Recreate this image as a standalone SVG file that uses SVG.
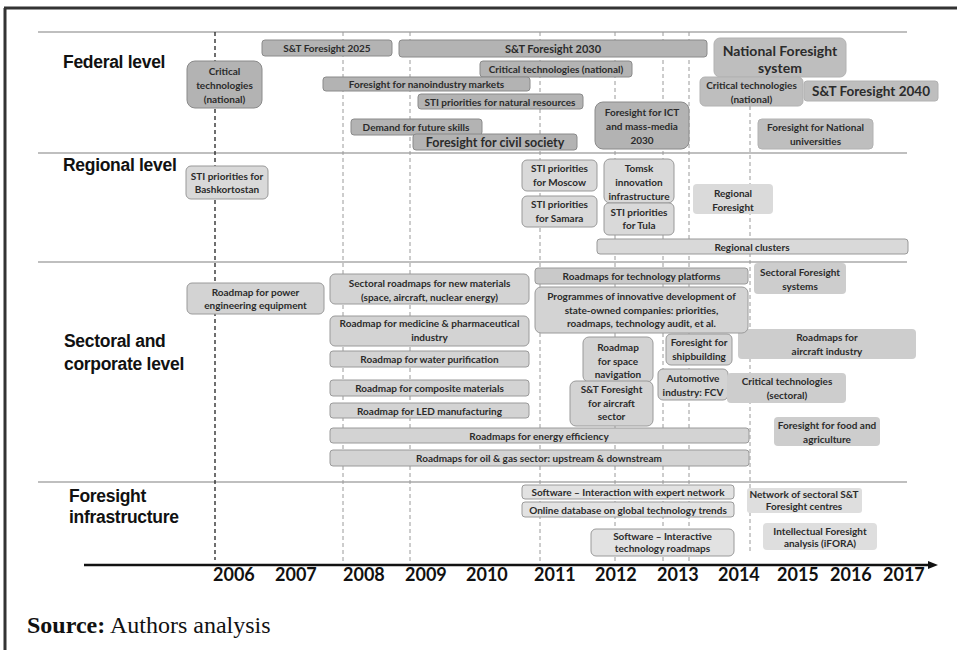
<svg xmlns="http://www.w3.org/2000/svg" width="957" height="650" viewBox="0 0 957 650">
<defs>
<style>
.bg{fill:#ffffff}
.frame{stroke:#333;stroke-width:3;fill:none}
.sep{stroke:#808080;stroke-width:1.2}
.gd{stroke:#9a9a9a;stroke-width:1;stroke-dasharray:4 3;fill:none}
.gk{stroke:#222;stroke-width:1.3;stroke-dasharray:4 3;fill:none}
.axis{stroke:#111;stroke-width:2.5}
.fed{fill:#b3b3b3;stroke:#8a8a8a;stroke-width:1}
.fed2{fill:#bebebe;stroke:#b2b2b2;stroke-width:1}
.reg{fill:#d9d9d9;stroke:#999;stroke-width:1}
.sec{fill:#d3d3d3;stroke:#9a9a9a;stroke-width:1}
.soft{fill:#cdcdcd;stroke:none}
.inf{fill:#e2e2e2;stroke:#9a9a9a;stroke-width:1}
.t{font-family:Lato,"Liberation Sans",sans-serif;font-weight:700;font-size:10px;fill:#2b2b2b;text-anchor:middle;dominant-baseline:central}
.lvl{font-family:"Liberation Sans",Arial,sans-serif;font-weight:700;font-size:17.5px;fill:#111;letter-spacing:-0.3px}
.yr{font-family:Lato,"Liberation Sans",sans-serif;font-weight:700;font-size:18px;fill:#111}
.src{font-family:"Liberation Serif","Times New Roman",serif;font-size:24px;fill:#111}
</style>
<marker id="arr" viewBox="0 0 10 10" refX="2" refY="5" markerWidth="4" markerHeight="4" orient="auto" markerUnits="strokeWidth">
<path d="M0,1 L10,5 L0,9 z" fill="#111"/>
</marker>
</defs>
<rect class="bg" x="0" y="0" width="957" height="650"/>
<g id="frame">
<line class="frame" x1="4" y1="8" x2="957" y2="8"/>
<line class="frame" x1="5" y1="8" x2="5" y2="650"/>
</g>
<g id="bands">
<line class="sep" x1="38" y1="32" x2="907" y2="32"/>
<line class="sep" x1="38" y1="153" x2="907" y2="153"/>
<line class="sep" x1="38" y1="262" x2="907" y2="262"/>
<line class="sep" x1="38" y1="482" x2="907" y2="482"/>
</g>
<g id="connectors">
<line class="gk" x1="215" y1="32" x2="215" y2="560"/>
<line class="gd" x1="343" y1="32" x2="343" y2="565"/>
<line class="gd" x1="410" y1="32" x2="410" y2="565"/>
<line class="gd" x1="540" y1="32" x2="540" y2="565"/>
<line class="gd" x1="615" y1="32" x2="615" y2="565"/>
<line class="gd" x1="663" y1="32" x2="663" y2="565"/>
<line class="gd" x1="689" y1="32" x2="689" y2="565"/>
<line class="gd" x1="750" y1="106" x2="750" y2="553"/>
<line class="axis" x1="84" y1="565" x2="930" y2="565" marker-end="url(#arr)"/>
</g>
<g id="labels">
<text class="lvl" x="63" y="68">Federal level</text>
<text class="lvl" x="63" y="171">Regional level</text>
<text class="lvl" x="64" y="347">Sectoral and</text>
<text class="lvl" x="64" y="370">corporate level</text>
<text class="lvl" x="69" y="502">Foresight</text>
<text class="lvl" x="69" y="523">infrastructure</text>
</g>
<g id="years">
<text class="yr" x="213" y="581">2006</text>
<text class="yr" x="275" y="581">2007</text>
<text class="yr" x="343" y="581">2008</text>
<text class="yr" x="405" y="581">2009</text>
<text class="yr" x="466" y="581">2010</text>
<text class="yr" x="534" y="581">2011</text>
<text class="yr" x="595" y="581">2012</text>
<text class="yr" x="657" y="581">2013</text>
<text class="yr" x="718" y="581">2014</text>
<text class="yr" x="777" y="581">2015</text>
<text class="yr" x="830" y="581">2016</text>
<text class="yr" x="883" y="581">2017</text>
</g>
<g id="n-crit-nat-2006"><rect class="fed" x="187" y="61" width="75" height="47" rx="8"/><text class="t" x="224.5" y="71">Critical</text><text class="t" x="224.5" y="85">technologies</text><text class="t" x="224.5" y="99">(national)</text></g>
<g id="n-st2025"><rect class="fed" x="262" y="40" width="130" height="16" rx="3"/><text class="t" x="327" y="48">S&amp;T Foresight 2025</text></g>
<g id="n-st2030"><rect class="fed" x="399" y="40" width="308" height="17" rx="3"/><text class="t" x="553" y="48.5" style="font-size:11px">S&amp;T Foresight 2030</text></g>
<g id="n-crit-nat-bar"><rect class="fed" x="480" y="61" width="152" height="16" rx="3"/><text class="t" x="556" y="69">Critical technologies (national)</text></g>
<g id="n-nano"><rect class="fed" x="323" y="77" width="207" height="14" rx="3"/><text class="t" x="426.5" y="84">Foresight for nanoindustry markets</text></g>
<g id="n-sti-nat"><rect class="fed" x="418" y="94" width="165" height="15" rx="3"/><text class="t" x="500" y="101.5">STI priorities for natural resources</text></g>
<g id="n-skills"><rect class="fed" x="351" y="119" width="131" height="16" rx="3"/><text class="t" x="416" y="127">Demand for future skills</text></g>
<g id="n-civil"><rect class="fed" x="413" y="134" width="164" height="16" rx="3"/><text class="t" x="495" y="142" style="font-size:12.5px">Foresight for civil society</text></g>
<g id="n-ict"><rect class="fed" x="595" y="102" width="94" height="47" rx="8"/><text class="t" x="642" y="112">Foresight for ICT</text><text class="t" x="642" y="126">and mass-media</text><text class="t" x="642" y="140">2030</text></g>
<g id="n-nfs"><rect class="fed2" x="714" y="38" width="132" height="39" rx="6"/><text class="t" x="780" y="50" style="font-size:14px">National Foresight</text><text class="t" x="780" y="67" style="font-size:14px">system</text></g>
<g id="n-crit-nat-2014"><rect class="fed2" x="700" y="77" width="103" height="29" rx="5"/><text class="t" x="751.5" y="84.5">Critical technologies</text><text class="t" x="751.5" y="98.5">(national)</text></g>
<g id="n-st2040"><rect class="fed2" x="804" y="81" width="134" height="20" rx="3"/><text class="t" x="871" y="91" style="font-size:13.5px">S&amp;T Foresight 2040</text></g>
<g id="n-univ"><rect class="fed2" x="758" y="119" width="115" height="30" rx="4"/><text class="t" x="815.5" y="127">Foresight for National</text><text class="t" x="815.5" y="141">universities</text></g>
<g id="n-bashk"><rect class="reg" x="186" y="166" width="82" height="33" rx="5"/><text class="t" x="227" y="176">STI priorities  for</text><text class="t" x="227" y="189">Bashkortostan</text></g>
<g id="n-moscow"><rect class="reg" x="522" y="160" width="75" height="31" rx="5"/><text class="t" x="559.5" y="168">STI priorities</text><text class="t" x="559.5" y="182">for Moscow</text></g>
<g id="n-samara"><rect class="reg" x="522" y="196" width="75" height="31" rx="5"/><text class="t" x="559.5" y="204">STI priorities</text><text class="t" x="559.5" y="218">for Samara</text></g>
<g id="n-tomsk"><rect class="reg" x="604" y="159" width="70" height="44" rx="6"/><text class="t" x="639" y="168">Tomsk</text><text class="t" x="639" y="182">innovation</text><text class="t" x="639" y="196">infrastructure</text></g>
<g id="n-tula"><rect class="reg" x="604" y="203" width="70" height="32" rx="5"/><text class="t" x="639" y="212">STI priorities</text><text class="t" x="639" y="225">for Tula</text></g>
<g id="n-regfs"><rect class="soft" x="693" y="184" width="80" height="30" rx="4" style="fill:#dadada"/><text class="t" x="733" y="193">Regional</text><text class="t" x="733" y="207">Foresight</text></g>
<g id="n-clusters"><rect class="reg" x="597" y="239" width="311" height="15" rx="3"/><text class="t" x="752" y="246.5">Regional clusters</text></g>
<g id="n-power"><rect class="sec" x="187" y="283" width="137" height="31" rx="5"/><text class="t" x="255.5" y="292">Roadmap for power</text><text class="t" x="255.5" y="305">engineering equipment</text></g>
<g id="n-newmat"><rect class="sec" x="330" y="274" width="199" height="30" rx="5"/><text class="t" x="429.5" y="283">Sectoral roadmaps for new materials</text><text class="t" x="429.5" y="297">(space, aircraft, nuclear energy)</text></g>
<g id="n-medicine"><rect class="sec" x="330" y="316" width="199" height="30" rx="5"/><text class="t" x="429.5" y="323">Roadmap for medicine &amp; pharmaceutical</text><text class="t" x="429.5" y="337">industry</text></g>
<g id="n-water"><rect class="sec" x="330" y="351" width="199" height="16" rx="3"/><text class="t" x="429.5" y="359">Roadmap for water purification</text></g>
<g id="n-composite"><rect class="sec" x="330" y="380" width="199" height="16" rx="3"/><text class="t" x="429.5" y="388">Roadmap for composite materials</text></g>
<g id="n-led"><rect class="sec" x="330" y="403" width="199" height="15" rx="3"/><text class="t" x="429.5" y="410.5">Roadmap for LED manufacturing</text></g>
<g id="n-energy"><rect class="sec" x="330" y="428" width="419" height="15" rx="3"/><text class="t" x="539" y="435.5">Roadmaps for energy efficiency</text></g>
<g id="n-oilgas"><rect class="sec" x="330" y="450" width="419" height="16" rx="3"/><text class="t" x="539" y="458">Roadmaps for oil &amp; gas sector: upstream &amp; downstream</text></g>
<g id="n-aircraft-rm"><rect class="soft" x="738" y="329" width="178" height="30" rx="4"/><text class="t" x="827" y="337">Roadmaps for</text><text class="t" x="827" y="351">aircraft industry</text></g>
<g id="n-techplat"><rect class="sec" x="535" y="268" width="213" height="16" rx="3" style="fill:#c9c9c9"/><text class="t" x="641.5" y="276">Roadmaps for technology platforms</text></g>
<g id="n-programmes"><rect class="sec" x="535" y="287" width="213" height="46" rx="6"/><text class="t" x="641.5" y="296">Programmes of innovative development of</text><text class="t" x="641.5" y="310">state-owned companies: priorities,</text><text class="t" x="641.5" y="323">roadmaps, technology audit, et al.</text></g>
<g id="n-secfs"><rect class="soft" x="754" y="263" width="92" height="31" rx="4"/><text class="t" x="800" y="272">Sectoral Foresight</text><text class="t" x="800" y="286">systems</text></g>
<g id="n-space"><rect class="sec" x="583" y="337" width="70" height="45" rx="6"/><text class="t" x="618" y="347">Roadmap</text><text class="t" x="618" y="361">for space</text><text class="t" x="618" y="374">navigation</text></g>
<g id="n-st-aircraft"><rect class="sec" x="570" y="381" width="83" height="45" rx="6"/><text class="t" x="611.5" y="389">S&amp;T Foresight</text><text class="t" x="611.5" y="403">for aircraft</text><text class="t" x="611.5" y="416">sector</text></g>
<g id="n-ship"><rect class="sec" x="666" y="334" width="66" height="31" rx="5"/><text class="t" x="699" y="342">Foresight for</text><text class="t" x="699" y="356">shipbuilding</text></g>
<g id="n-auto"><rect class="sec" x="658" y="369" width="70" height="31" rx="5"/><text class="t" x="693" y="378">Automotive</text><text class="t" x="693" y="392">industry: FCV</text></g>
<g id="n-crit-sec"><rect class="soft" x="727" y="373" width="119" height="30" rx="4"/><text class="t" x="787" y="381">Critical technologies</text><text class="t" x="787" y="395">(sectoral)</text></g>
<g id="n-food"><rect class="soft" x="774" y="417" width="106" height="29" rx="4"/><text class="t" x="827" y="425">Foresight for food and</text><text class="t" x="827" y="439">agriculture</text></g>
<g id="n-sw-expert"><rect class="inf" x="522" y="485" width="212" height="14" rx="3"/><text class="t" x="628" y="492">Software – Interaction with expert network</text></g>
<g id="n-online-db"><rect class="inf" x="522" y="502" width="212" height="15" rx="3"/><text class="t" x="628" y="509.5">Online database on global technology trends</text></g>
<g id="n-sw-roadmaps"><rect class="inf" x="591" y="529" width="143" height="27" rx="5"/><text class="t" x="662.5" y="535.5">Software – Interactive</text><text class="t" x="662.5" y="547.5">technology roadmaps</text></g>
<g id="n-network"><rect class="soft" x="747" y="488" width="115" height="25" rx="3" style="fill:#dedede"/><text class="t" x="804" y="494">Network of sectoral S&amp;T</text><text class="t" x="804" y="506">Foresight centres</text></g>
<g id="n-ifora"><rect class="soft" x="763" y="523" width="114" height="27" rx="4" style="fill:#dedede"/><text class="t" x="820" y="531">Intellectual Foresight</text><text class="t" x="820" y="543">analysis (iFORA)</text></g>
<g id="source"><text class="src" x="27" y="633"><tspan font-weight="700">Source:</tspan> Authors analysis</text></g>
</svg>
